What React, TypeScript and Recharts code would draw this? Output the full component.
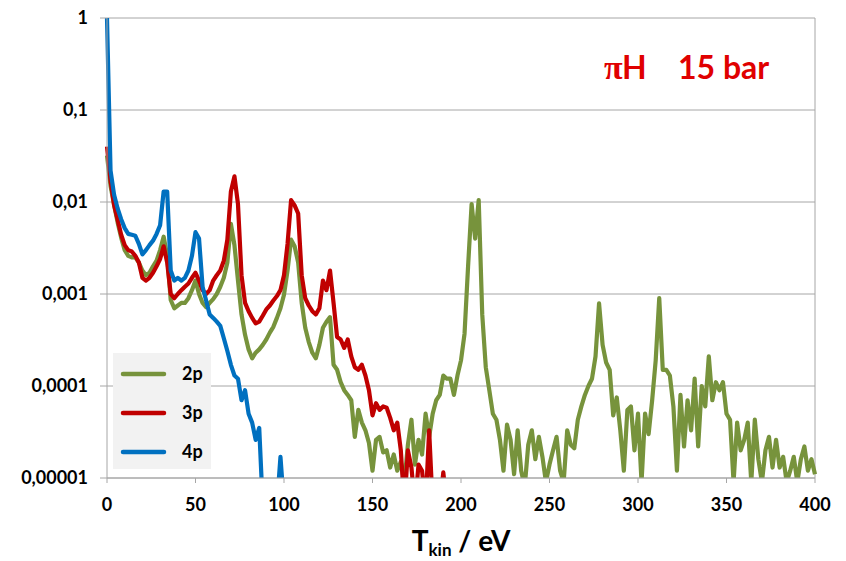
import React from "react";
import {
  LineChart,
  Line,
  XAxis,
  YAxis,
  CartesianGrid,
  ReferenceLine,
  Label,
} from "recharts";

// kinetic energy grid, eV (sampled every 2 eV)
const ENERGY_STEP = 2;
const ENERGY_MAX = 400;
const energies = Array.from(
  { length: ENERGY_MAX / ENERGY_STEP + 1 },
  (_, i) => i * ENERGY_STEP
);

const xTicks = [0, 50, 100, 150, 200, 250, 300, 350, 400];
const yTicks = [1, 0.1, 0.01, 0.001, 0.0001, 0.00001];

// values below 1e-5 fall off the bottom of the plot
const p2 = [
  0.032, 0.015, 0.0093, 0.006, 0.0041, 0.003, 0.0026, 0.0025, 0.0025, 0.0022,
  0.0018, 0.0016, 0.0017, 0.002, 0.0023, 0.003, 0.0042, 0.0026, 0.00086, 0.0007,
  0.00075, 0.0008, 0.0008, 0.0009, 0.0011, 0.0014, 0.001, 0.0008, 0.00072, 0.0008,
  0.00088, 0.001, 0.0012, 0.0015, 0.0022, 0.0058, 0.0034, 0.0014, 0.0006, 0.00036,
  0.00025, 0.0002, 0.00023, 0.00025, 0.00028, 0.00032, 0.00038, 0.00044, 0.00055, 0.0007,
  0.00098, 0.0018, 0.0039, 0.0033, 0.0022, 0.0008, 0.00043, 0.0003, 0.00023, 0.0002,
  0.00028, 0.00043, 0.0005, 0.00056, 0.00017, 0.00015, 0.00011, 9e-5, 8e-5, 7e-5,
  2.8e-5, 5.5e-5, 4e-5, 3.3e-5, 2.4e-5, 1.2e-5, 2.6e-5, 2.8e-5, 1.9e-5, 2e-5,
  1.3e-5, 1.8e-5, 1.2e-5, 1.5e-5, 9e-6, 2.3e-5, 4.3e-5, 1.4e-5, 2.6e-5, 1.8e-5,
  5e-5, 2.8e-5, 5e-5, 7e-5, 8e-5, 1.3e-4, 1.2e-4, 1.2e-4, 8e-5, 1.3e-4,
  1.9e-4, 3.7e-4, 0.002, 0.0095, 0.004, 0.0105, 6e-4, 1.6e-4, 9e-5, 5e-5,
  4.3e-5, 2.6e-5, 1.2e-5, 3.8e-5, 2.6e-5, 1.1e-5, 3.3e-5, 1.2e-5, 8e-6, 2.3e-5,
  3.3e-5, 1.6e-5, 2.8e-5, 1.7e-5, 9e-6, 1.4e-5, 2e-5, 2.8e-5, 1.2e-5, 9e-6,
  3.3e-5, 2.3e-5, 2.1e-5, 4.3e-5, 6e-5, 8e-5, 1e-4, 1.2e-4, 2.1e-4, 7.9e-4,
  2.8e-4, 1.8e-4, 1.5e-4, 4.8e-5, 7.5e-5, 3.3e-5, 1.2e-5, 5.5e-5, 6e-5, 2e-5,
  5e-5, 9e-6, 5e-5, 3e-5, 7e-5, 1.9e-4, 9e-4, 1.5e-4, 1.5e-4, 1.3e-4,
  6e-5, 1.2e-5, 8e-5, 2.2e-5, 7e-5, 3.3e-5, 1.2e-4, 2.2e-5, 1e-4, 6e-5,
  2.1e-4, 7e-5, 1.1e-4, 9e-5, 1.1e-4, 5e-5, 4.3e-5, 9e-6, 4e-5, 2e-5,
  2.6e-5, 4e-5, 9e-6, 4.3e-5, 1.6e-5, 9e-6, 2e-5, 2.8e-5, 1.3e-5, 2.6e-5,
  1.3e-5, 1.7e-5, 9e-6, 1.2e-5, 1.7e-5, 9e-6, 1.6e-5, 2.2e-5, 1.2e-5, 1.6e-5,
  1.1e-5,
];

const p3 = [
  0.04, 0.017, 0.0093, 0.0064, 0.0044, 0.0034, 0.003, 0.0029, 0.0026, 0.0022,
  0.0015, 0.0014, 0.0015, 0.0017, 0.002, 0.0024, 0.0033, 0.0022, 0.001, 0.0009,
  0.001, 0.0011, 0.0012, 0.0013, 0.0015, 0.0017, 0.0014, 0.0011, 0.001, 0.0011,
  0.0014, 0.0016, 0.0018, 0.0023, 0.0039, 0.013, 0.019, 0.0095, 0.0016, 0.0008,
  0.00065, 0.00055, 0.00048, 0.0005, 0.00058, 0.00068, 0.00075, 0.00085, 0.00095, 0.0011,
  0.0016, 0.0035, 0.0105, 0.0092, 0.0075, 0.0016, 0.0009, 0.00075, 0.00065, 0.0006,
  0.0007, 0.0014, 0.0011, 0.0018, 0.0008, 0.00034, 0.00032, 0.00026, 0.00032, 0.00021,
  0.00016, 0.00015, 0.00017, 0.00013, 9e-5, 4.8e-5, 6.5e-5, 5.5e-5, 6e-5, 5.8e-5,
  4.5e-5, 3.3e-5, 4e-5, 2e-5, 5e-6, 2e-5, 1.3e-5, 5e-6, 1.4e-5, 1.2e-5,
  5e-6, 3.3e-5, 5e-6, 5e-6, 5e-6, 1.15e-5, 5e-6,
];

const p4 = [
  1, 0.022, 0.012, 0.0085, 0.0065, 0.0052, 0.0045, 0.0044, 0.0043, 0.0035,
  0.0027, 0.003, 0.0034, 0.0038, 0.0045, 0.0056, 0.013, 0.013, 0.0018, 0.0014,
  0.0015, 0.0014, 0.0015, 0.0018, 0.0026, 0.0047, 0.004, 0.0012, 0.00085, 0.0006,
  0.00055, 0.0005, 0.00045, 0.00033, 0.00024, 0.00017, 0.00013, 0.00012, 7e-5, 9e-5,
  5e-5, 4e-5, 2.6e-5, 3.5e-5, 5e-6, 5e-6, 5e-6, 5e-6, 5e-6, 1.7e-5,
  5e-6,
];

const series = [
  { key: "p2", name: "2p", color: "#77933C" },
  { key: "p3", name: "3p", color: "#C00000" },
  { key: "p4", name: "4p", color: "#0070C0" },
];

const rows = energies.map((t, i) => ({
  t,
  p2: p2[i] ?? null,
  p3: p3[i] ?? null,
  p4: p4[i] ?? null,
}));

const FONT = "Lato, 'Open Sans', sans-serif";
const GRID = "#A6A6A6";
const tickStyle = { fill: "#000", fontSize: 18, fontWeight: 700, fontFamily: FONT };

function fmtY(v: number) {
  return String(v).replace(".", ",");
}

function AxisTitle(props: any) {
  const vb = props.viewBox || {};
  const cx = vb.x + vb.width / 2;
  return (
    <text
      x={cx}
      y={vb.y + 73}
      textAnchor="middle"
      fontFamily={FONT}
      fontWeight={700}
      fontSize={28}
      fill="#000"
    >
      T
      <tspan fontSize={17} dy={5}>
        kin
      </tspan>
      <tspan dy={-5}> / eV</tspan>
    </text>
  );
}

export default function App() {
  return (
    <div style={{ position: "absolute", left: 0, top: 0, width: 846, height: 561, background: "#fff" }}>
      <LineChart
        width={846}
        height={561}
        data={rows}
        margin={{ top: 18, right: 31, left: 0, bottom: 0 }}
      >
        <CartesianGrid stroke={GRID} vertical={false} />
        <XAxis
          dataKey="t"
          type="number"
          domain={[0, 400]}
          ticks={xTicks}
          height={83}
          tick={tickStyle}
          tickSize={5}
          tickMargin={15}
          stroke={GRID}
          axisLine={{ stroke: GRID }}
          tickLine={{ stroke: GRID }}
        >
          <Label content={AxisTitle} position="bottom" />
        </XAxis>
        <YAxis
          scale="log"
          domain={[0.00001, 1]}
          allowDataOverflow
          ticks={yTicks}
          width={107}
          tick={tickStyle}
          tickFormatter={fmtY}
          tickSize={7}
          tickMargin={12}
          axisLine={{ stroke: GRID }}
          tickLine={{ stroke: GRID }}
        />
        <ReferenceLine x={400} stroke={GRID} />
        {series.map((s) => (
          <Line
            key={s.key}
            dataKey={s.key}
            name={s.name}
            stroke={s.color}
            strokeWidth={4.2}
            strokeLinejoin="round"
            dot={false}
            type="linear"
            isAnimationActive={false}
          />
        ))}
      </LineChart>
      <svg
        width={846}
        height={561}
        style={{ position: "absolute", left: 0, top: 0, pointerEvents: "none" }}
      >
        <text x={604} y={79} fill="#E00000" fontSize={34} fontWeight={700} fontFamily="'Liberation Serif', serif">
          π
        </text>
        <text x={622} y={79} fill="#E00000" fontSize={32} fontWeight={700} fontFamily={FONT}>
          H
        </text>
        <text x={678} y={79} fill="#E00000" fontSize={32} fontWeight={700} fontFamily={FONT}>
          15 bar
        </text>
        <rect x={113} y={353} width={98} height={116} fill="#F2F2F2" />
        {series.map((s, i) => (
          <g key={s.key}>
            <line
              x1={123}
              x2={164}
              y1={374 + i * 39}
              y2={374 + i * 39}
              stroke={s.color}
              strokeWidth={4.5}
              strokeLinecap="round"
            />
            <text
              x={182}
              y={374 + i * 39}
              dy="0.36em"
              fontSize={18}
              fontWeight={700}
              fontFamily={FONT}
              fill="#000"
            >
              {s.name}
            </text>
          </g>
        ))}
      </svg>
    </div>
  );
}
